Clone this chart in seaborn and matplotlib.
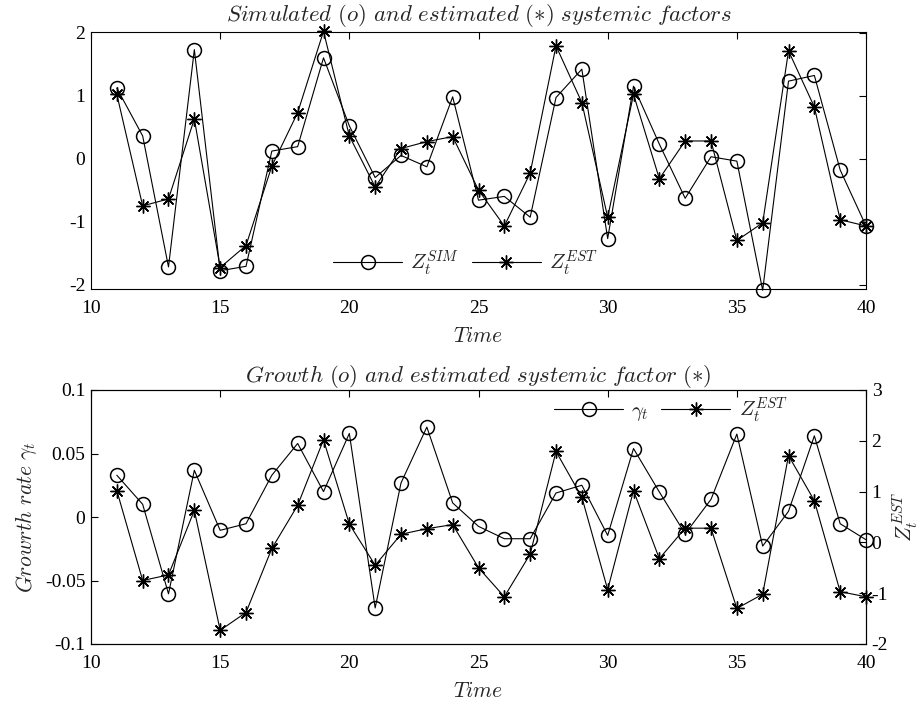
import numpy as np
import pandas as pd
import matplotlib
matplotlib.use("Agg")
import matplotlib.pyplot as plt
from matplotlib.ticker import FixedLocator, FixedFormatter
import seaborn as sns

# --- data -------------------------------------------------------------
time = list(range(11, 41))

z_sim = [1.12, 0.36, -1.72, 1.73, -1.78, -1.71, 0.12, 0.19, 1.60, 0.52,
         -0.30, 0.05, -0.13, 0.98, -0.66, -0.60, -0.93, 0.97, 1.42, -1.27,
         1.15, 0.23, -0.63, 0.03, -0.04, -2.09, 1.23, 1.32, -0.18, -1.07]

z_est = [1.02, -0.75, -0.64, 0.63, -1.73, -1.38, -0.12, 0.73, 2.02, 0.36,
         -0.45, 0.16, 0.27, 0.35, -0.50, -1.07, -0.23, 1.79, 0.89, -0.93,
         1.02, -0.32, 0.28, 0.28, -1.30, -1.02, 1.71, 0.82, -0.97, -1.07]

gamma = [0.0329, 0.0100, -0.0605, 0.0368, -0.0105, -0.0053, 0.0329, 0.0579,
         0.0200, 0.0658, -0.0716, 0.0268, 0.0708, 0.0111, -0.0074, -0.0171,
         -0.0171, 0.0189, 0.0250, -0.0145, 0.0539, 0.0197, -0.0132, 0.0139,
         0.0653, -0.0229, 0.0045, 0.0639, -0.0053, -0.0179]

x_ticks = [10, 15, 20, 25, 30, 35, 40]
z_ticks = [-2, -1, 0, 1, 2]
g_ticks = [-0.1, -0.05, 0, 0.05, 0.1]
g_tick_labels = ["-0.1", "-0.05", "0", "0.05", "0.1"]
z2_ticks = [-2, -1, 0, 1, 2, 3]

df = pd.DataFrame({"time": time, "z_sim": z_sim, "z_est": z_est, "gamma": gamma})

# --- style ------------------------------------------------------------
sns.set_style("white")
plt.rcParams["font.family"] = ["Liberation Serif", "DejaVu Serif"]
plt.rcParams["mathtext.fontset"] = "cm"
plt.rcParams["axes.unicode_minus"] = False
plt.rcParams["font.size"] = 14
plt.rcParams["xtick.direction"] = "in"
plt.rcParams["ytick.direction"] = "in"

FS = 14        # tick labels
FS_T = 16.5    # titles
FS_L = 15.5    # axis labels
FS_LEG = 15    # legend
LW = 0.8
circ = dict(marker="o", markersize=10, markerfacecolor="none",
            markeredgecolor="black", markeredgewidth=1.1, clip_on=False)
star = dict(marker=(8, 2, 0), markersize=10, markeredgecolor="black",
            markeredgewidth=1.0, clip_on=False)

fig = plt.figure(figsize=(9.21, 7.06), dpi=100)
ax1 = fig.add_axes([0.0988, 1 - 289 / 706, 0.8415, 257 / 706])
ax2 = fig.add_axes([0.0988, 1 - 644 / 706, 0.8415, 254 / 706])


def style_axis(ax):
    for s in ax.spines.values():
        s.set_color("black")
        s.set_linewidth(0.8)
    ax.tick_params(axis="both", which="both", direction="in", length=5,
                   width=0.8, colors="black", labelsize=FS)
    ax.tick_params(axis="x", pad=8)
    ax.tick_params(axis="y", pad=4)


# --- top panel: simulated vs estimated factors ------------------------
sns.lineplot(data=df, x="time", y="z_sim", ax=ax1, color="black", lw=LW,
             legend=False, label=r"$Z_t^{SIM}$", **circ)
sns.lineplot(data=df, x="time", y="z_est", ax=ax1, color="black", lw=LW,
             legend=False, label=r"$Z_t^{EST}$", **star)
ax1.set_xlim(10, 40)
ax1.xaxis.set_major_locator(FixedLocator(x_ticks))
ax1.yaxis.set_major_locator(FixedLocator(z_ticks))
ax1.yaxis.set_major_formatter(FixedFormatter([str(v) for v in z_ticks]))
style_axis(ax1)
ax1.tick_params(top=True, right=True)
ax1.set_ylim(-2.07, 2.01)
ax1.set_xlabel(r"$Time$", fontsize=FS_L, labelpad=7)
ax1.set_ylabel("")
ax1.set_title(r"$Simulated\ (o)\ and\ estimated\ (\ast)\ systemic\ factors$",
              fontsize=FS_T, pad=8)
h, l = ax1.get_legend_handles_labels()
ax1.legend(h, l, loc="center", bbox_to_anchor=(0.483, 0.10), ncol=2,
           frameon=False, fontsize=FS_LEG, handlelength=3.3, columnspacing=0.6,
           handletextpad=0.4, borderpad=0)

# --- bottom panel: growth rate and estimated factor -------------------
sns.lineplot(data=df, x="time", y="gamma", ax=ax2, color="black", lw=LW,
             legend=False, label=r"$\gamma_t$", **circ)
ax2.set_xlim(10, 40)
ax2.set_ylim(-0.1, 0.1)
ax2.xaxis.set_major_locator(FixedLocator(x_ticks))
ax2.yaxis.set_major_locator(FixedLocator(g_ticks))
ax2.yaxis.set_major_formatter(FixedFormatter(g_tick_labels))
style_axis(ax2)
ax2.tick_params(top=True)
ax2.set_xlabel(r"$Time$", fontsize=FS_L, labelpad=7)
ax2.set_ylabel(r"$Growrth\ rate\ \gamma_t$", fontsize=FS_L, labelpad=4)
ax2.set_title(r"$Growth\ (o)\ and\ estimated\ systemic\ factor\ (\ast)$",
              fontsize=FS_T, pad=4)

ax3 = ax2.twinx()
sns.lineplot(data=df, x="time", y="z_est", ax=ax3, color="black", lw=LW,
             legend=False, label=r"$Z_t^{EST}$", **star)
ax3.set_ylim(-2, 3)
ax3.yaxis.set_major_locator(FixedLocator(z2_ticks))
ax3.yaxis.set_major_formatter(FixedFormatter([str(v) for v in z2_ticks]))
style_axis(ax3)
ax3.set_ylabel(r"$Z_t^{EST}$", fontsize=FS_L, labelpad=2)

h2, l2 = ax2.get_legend_handles_labels()
h3, l3 = ax3.get_legend_handles_labels()
ax3.legend(h2 + h3, l2 + l3, loc="center", bbox_to_anchor=(0.748, 0.921),
           ncol=2, frameon=False, fontsize=FS_LEG, handlelength=3.3,
           columnspacing=0.6, handletextpad=0.4, borderpad=0)

fig.savefig("out.png", dpi=100)
